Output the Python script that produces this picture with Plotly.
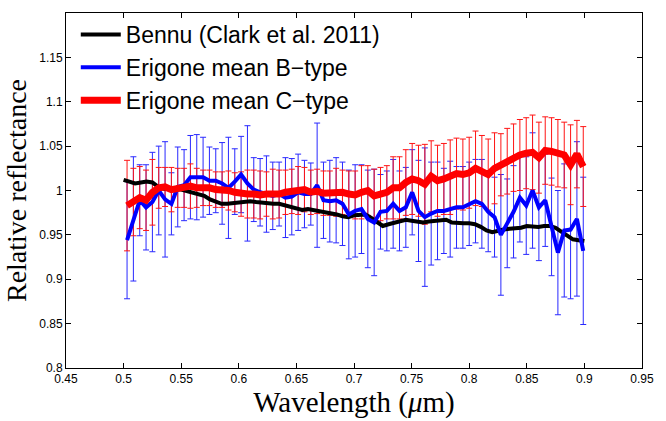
import plotly.graph_objects as go

# Bennu (Clark et al. 2011)
bennu_wl = [0.500,0.505,0.510,0.515,0.520,0.525,0.530,0.535,0.540,0.545,0.550,0.555,0.560,0.565,0.570,0.575,
            0.580,0.585,0.590,0.595,0.600,0.605,0.610,0.615,0.620,0.625,0.630,0.635,0.640,0.645,0.650,0.655,
            0.660,0.665,0.670,0.675,0.680,0.685,0.690,0.695,0.700,0.705,0.710,0.715,0.720,0.725,0.730,0.735,
            0.740,0.745,0.750,0.755,0.760,0.765,0.770,0.775,0.780,0.785,0.790,0.795,0.800,0.805,0.810,0.815,
            0.820,0.825,0.830,0.835,0.840,0.845,0.850,0.855,0.860,0.865,0.870,0.875,0.880,0.885,0.890,0.895,0.900]
bennu_refl = [1.012,1.010,1.008,1.009,1.010,1.009,1.004,1.002,1.001,1.001,1.001,0.999,0.997,0.996,0.994,0.990,
              0.987,0.985,0.985,0.986,0.987,0.987,0.988,0.987,0.986,0.986,0.985,0.985,0.983,0.981,0.979,0.978,
              0.979,0.978,0.977,0.975,0.974,0.973,0.971,0.970,0.972,0.972,0.973,0.969,0.965,0.960,0.962,0.964,
              0.966,0.967,0.966,0.965,0.964,0.965,0.966,0.967,0.967,0.964,0.963,0.963,0.963,0.962,0.959,0.955,
              0.953,0.955,0.956,0.957,0.957,0.958,0.960,0.959,0.959,0.960,0.960,0.958,0.954,0.950,0.945,0.944,0.943]

# Erigone wavelengths
erigone_wl = [0.503,0.5085,0.514,0.5195,0.525,0.5305,0.536,0.5415,0.547,0.5525,0.558,0.5635,0.569,0.5745,
              0.580,0.5855,0.591,0.5965,0.602,0.6075,0.613,0.6185,0.624,0.6295,0.635,0.6405,0.646,0.6515,
              0.657,0.6625,0.668,0.6735,0.679,0.6845,0.690,0.6955,0.701,0.7065,0.712,0.7175,0.723,0.7285,
              0.734,0.7395,0.745,0.7505,0.756,0.7615,0.767,0.7725,0.778,0.7835,0.789,0.7945,0.800,0.8055,
              0.811,0.8165,0.822,0.8275,0.833,0.8385,0.844,0.8495,0.855,0.8605,0.866,0.8715,0.877,0.8825,
              0.888,0.8935,0.899]

btype_refl = [0.944,0.968,0.989,0.981,0.987,1.000,0.990,0.985,1.004,1.006,1.015,1.015,1.015,1.011,
              1.011,1.008,1.003,1.010,1.018,1.008,1.001,0.998,0.996,0.994,0.996,0.992,0.993,0.998,
              0.996,0.996,1.006,0.989,0.988,0.989,0.985,0.973,0.977,0.979,0.968,0.964,0.976,0.977,
              0.985,0.977,0.981,0.998,0.977,0.970,0.974,0.977,0.977,0.979,0.981,0.981,0.985,0.988,
              0.985,0.976,0.970,0.950,0.963,0.976,0.992,0.983,1.000,0.981,0.989,0.959,0.930,0.955,
              0.956,0.968,0.932]
btype_err = [0.066,0.070,0.040,0.048,0.056,0.050,0.065,0.035,0.045,0.040,0.047,0.048,0.045,0.038,
             0.036,0.046,0.057,0.037,0.043,0.065,0.036,0.038,0.043,0.038,0.036,0.045,0.043,0.043,
             0.038,0.035,0.070,0.043,0.046,0.048,0.047,0.050,0.052,0.050,0.055,0.060,0.042,0.045,
             0.050,0.045,0.045,0.048,0.057,0.078,0.058,0.055,0.048,0.054,0.046,0.046,0.047,0.047,
             0.050,0.045,0.045,0.068,0.050,0.052,0.050,0.055,0.065,0.060,0.052,0.055,0.070,0.075,
             0.078,0.087,0.083]

ctype_refl = [0.983,0.987,0.992,0.989,0.998,1.003,1.004,1.001,1.003,1.003,1.005,1.003,1.003,1.003,
              1.001,1.001,1.000,0.998,0.996,0.996,0.996,0.995,0.996,0.996,0.996,0.998,0.999,1.000,
              1.001,0.998,0.999,0.997,0.997,0.998,0.998,0.996,0.995,0.998,1.000,0.994,0.996,0.998,
              1.003,1.003,1.009,1.013,1.011,1.007,1.016,1.011,1.013,1.015,1.019,1.018,1.020,1.025,
              1.022,1.018,1.025,1.029,1.033,1.037,1.040,1.042,1.043,1.037,1.045,1.044,1.042,1.040,
              1.029,1.041,1.027]
ctype_err = [0.051,0.038,0.035,0.034,0.037,0.023,0.022,0.025,0.022,0.022,0.025,0.022,0.020,0.020,
             0.020,0.020,0.022,0.022,0.025,0.027,0.027,0.027,0.025,0.028,0.027,0.025,0.025,0.027,
             0.025,0.025,0.025,0.025,0.025,0.027,0.025,0.026,0.027,0.030,0.028,0.030,0.030,0.030,
             0.035,0.035,0.037,0.040,0.040,0.045,0.040,0.040,0.040,0.042,0.040,0.040,0.040,0.042,
             0.040,0.040,0.040,0.035,0.037,0.038,0.040,0.040,0.042,0.040,0.038,0.038,0.038,0.037,
             0.045,0.038,0.045]

x_ticks = [0.45,0.5,0.55,0.6,0.65,0.7,0.75,0.8,0.85,0.9,0.95]
x_ticktext = ["0.45","0.5","0.55","0.6","0.65","0.7","0.75","0.8","0.85","0.9","0.95"]
y_ticks = [0.8,0.85,0.9,0.95,1.0,1.05,1.1,1.15]
y_ticktext = ["0.8","0.85","0.9","0.95","1","1.05","1.1","1.15"]

fig = go.Figure()

# error bars (drawn underneath the lines)
fig.add_trace(go.Scatter(
    x=erigone_wl, y=btype_refl, mode="markers", showlegend=False, hoverinfo="skip",
    marker=dict(size=1, color="rgba(0,0,0,0)"),
    error_y=dict(type="data", array=btype_err, visible=True, color="rgb(40,40,255)", thickness=1, width=3)))
fig.add_trace(go.Scatter(
    x=erigone_wl, y=ctype_refl, mode="markers", showlegend=False, hoverinfo="skip",
    marker=dict(size=1, color="rgba(0,0,0,0)"),
    error_y=dict(type="data", array=ctype_err, visible=True, color="rgb(255,20,20)", thickness=1, width=3)))

fig.add_trace(go.Scatter(x=bennu_wl, y=bennu_refl, mode="lines", name="Bennu (Clark et al. 2011)",
                         line=dict(color="black", width=4)))
fig.add_trace(go.Scatter(x=erigone_wl, y=btype_refl, mode="lines", name="Erigone mean B\u2212type",
                         line=dict(color="rgb(0,0,255)", width=4)))
fig.add_trace(go.Scatter(x=erigone_wl, y=ctype_refl, mode="lines", name="Erigone mean C\u2212type",
                         line=dict(color="rgb(255,0,0)", width=7)))

axis_common = dict(showgrid=False, zeroline=False, showline=True, linecolor="black", linewidth=1,
                   mirror="ticks", ticks="inside", ticklen=5, tickcolor="black", tickwidth=1,
                   tickfont=dict(family="Liberation Sans, Arial, sans-serif", size=12, color="black"))

fig.update_layout(
    width=666, height=421,
    margin=dict(l=66, r=13, t=13, b=48),
    paper_bgcolor="white", plot_bgcolor="white",
    xaxis=dict(range=[0.45, 0.95], tickvals=x_ticks, ticktext=x_ticktext,
               title=dict(text="Wavelength (<i>\u03bc</i>m)", standoff=2,
                          font=dict(family="Liberation Serif, Times New Roman, serif", size=29, color="black")),
               **axis_common),
    yaxis=dict(range=[0.8, 1.2], tickvals=y_ticks, ticktext=y_ticktext,
               title=dict(text="Relative reflectance", standoff=4,
                          font=dict(family="Liberation Serif, Times New Roman, serif", size=28, color="black")),
               **axis_common),
    legend=dict(x=0.017, y=1.0, xanchor="left", yanchor="top", bgcolor="rgba(0,0,0,0)",
                font=dict(family="Liberation Sans, Arial, sans-serif", size=23, color="black"),
                itemwidth=40, tracegroupgap=0),
    showlegend=True,
)

fig.write_html("out.html")
